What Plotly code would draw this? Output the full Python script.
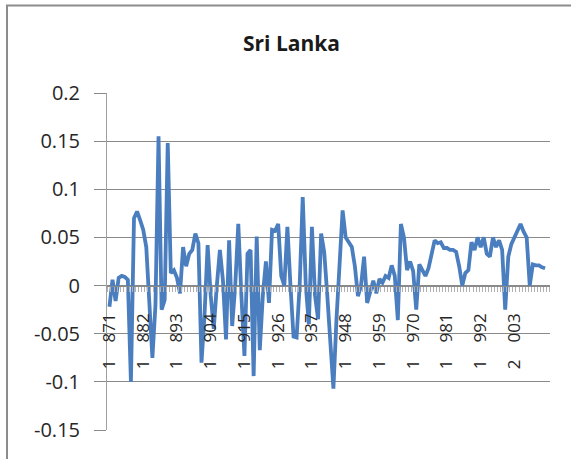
import plotly.graph_objects as go

years = list(range(1871, 2014))
growth = [
    -0.022, 0.006, -0.016, 0.008, 0.010, 0.009, 0.006, -0.100, 0.070, 0.077,
    0.068, 0.058, 0.040, -0.020, -0.075, -0.020, 0.155, -0.025, -0.015, 0.148,
    0.013, 0.016, 0.008, -0.008, 0.040, 0.020, 0.033, 0.037, 0.054, 0.044,
    -0.080, -0.030, 0.042, -0.010, -0.045, 0.000, 0.037, 0.005, -0.056, 0.047,
    -0.042, 0.000, 0.064, -0.010, -0.073, 0.033, 0.037, -0.094, 0.051, -0.067,
    -0.010, 0.025, -0.018, 0.058, 0.057, 0.064, 0.010, 0.000, 0.061, 0.000,
    -0.053, -0.054, 0.000, 0.092, 0.000, -0.040, 0.061, -0.010, -0.035, 0.054,
    0.035, -0.010, -0.060, -0.107, -0.035, 0.030, 0.078, 0.050, 0.045, 0.040,
    0.020, -0.011, 0.000, 0.030, -0.018, -0.005, 0.005, -0.008, 0.007, 0.003,
    0.010, 0.008, 0.021, 0.010, -0.036, 0.064, 0.050, 0.016, 0.025, 0.015,
    -0.025, 0.022, 0.015, 0.010, 0.018, 0.032, 0.047, 0.044, 0.045, 0.039,
    0.039, 0.037, 0.037, 0.035, 0.020, 0.000, 0.013, 0.016, 0.045, 0.037,
    0.050, 0.040, 0.050, 0.033, 0.030, 0.050, 0.040, 0.047, 0.037, -0.025,
    0.030, 0.043, 0.050, 0.058, 0.064, 0.056, 0.050, 0.000, 0.022, 0.021,
    0.021, 0.019, 0.018,
]

x_tick_years = list(range(1871, 2004, 11))
x_tick_labels = [f"{y // 1000}\u2003{y % 1000:03d}" for y in x_tick_years]
y_tick_vals = [0.2, 0.15, 0.1, 0.05, 0, -0.05, -0.1, -0.15]
y_tick_labels = ["0.2", "0.15", "0.1", "0.05", "0", "-0.05", "-0.1", "-0.15"]
title_text = "Sri Lanka"

W, H = 571, 459
L, R, T, B = 107, 21, 93, 29
ymin, ymax = -0.15, 0.2
grid = "#8a8a8a"

fig = go.Figure()
fig.add_trace(go.Scatter(
    x=years, y=growth, mode="lines",
    line=dict(color="#4a7ebf", width=3.8),
    hoverinfo="skip", showlegend=False,
))

fig.update_layout(
    width=W, height=H,
    margin=dict(l=L, r=R, t=T, b=B, pad=0),
    paper_bgcolor="white", plot_bgcolor="white",
    font=dict(family="Open Sans", color="#262626"),
    title=dict(text="<b>" + title_text + "</b>", x=291.5 / W, xanchor="center",
               y=1 - 44 / H, yanchor="middle", yref="container",
               font=dict(size=21, family="Open Sans", color="#1a1a1a")),
    xaxis=dict(
        range=[1870.2, 2014.6], anchor="free",
        position=(0 - ymin) / (ymax - ymin),
        showgrid=False, zeroline=False,
        showline=True, linecolor=grid, linewidth=1,
        tickmode="array", tickvals=x_tick_years, ticktext=x_tick_labels,
        tickangle=-90, ticks="", ticklabelstandoff=20,
        tickfont=dict(size=17, family="Open Sans", color="#262626"),
        minor=dict(ticks="outside", tick0=1870.5, dtick=1, ticklen=5,
                   tickcolor="#b0b0b0", tickwidth=1, showgrid=False),
        automargin=False,
    ),
    yaxis=dict(
        range=[ymin, ymax],
        tickmode="array", tickvals=y_tick_vals, ticktext=y_tick_labels,
        showgrid=True, gridcolor=grid, gridwidth=1,
        zeroline=False,
        showline=True, linecolor="#a0a0a0", linewidth=1,
        ticks="outside", ticklen=12, tickcolor=grid, tickwidth=1,
        ticklabelstandoff=10,
        tickfont=dict(size=20, family="Open Sans", color="#262626"),
        automargin=False,
    ),
    shapes=[dict(
        type="rect", xref="paper", yref="paper",
        x0=(7 - L) / (W - L - R), x1=(W + 20 - L) / (W - L - R),
        y0=-(H + 20 - (H - B)) / (H - T - B), y1=((H - B) - 5.5) / (H - T - B),
        line=dict(color="#8c8c8c", width=2), fillcolor="rgba(0,0,0,0)",
        layer="below",
    )],
)

fig.write_html("out.html", config={"displayModeBar": False},
               post_script="document.body.style.margin='0';")
